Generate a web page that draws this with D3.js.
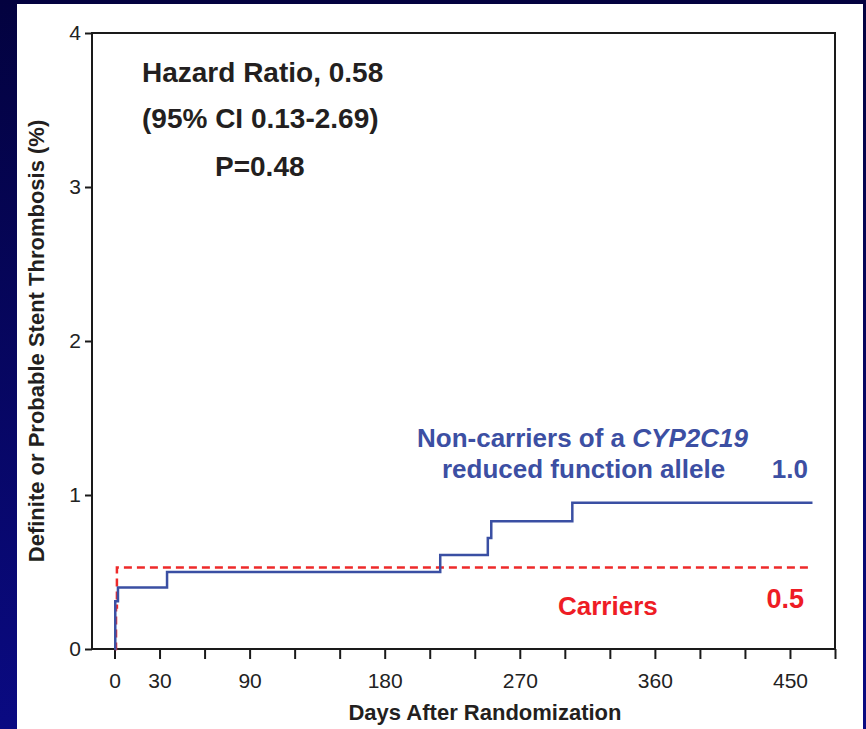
<!DOCTYPE html>
<html>
<head>
<meta charset="utf-8">
<script src="https://cdn.jsdelivr.net/npm/d3@7/dist/d3.min.js"></script>
<style>
  html, body { margin: 0; padding: 0; }
  body { width: 866px; height: 729px; overflow: hidden; }
  svg { display: block; font-family: "Liberation Sans", Arial, Helvetica, sans-serif; }
</style>
</head>
<body>
<svg id="chart" width="866" height="729"></svg>
<script>
// Kaplan-Meier style cumulative incidence of stent thrombosis (%)
const nonCarrierDays = [0, 0.5, 2.3, 35, 217, 248.7, 251, 305, 465];
const nonCarrierRisk = [0, 0.31, 0.40, 0.50, 0.61, 0.72, 0.83, 0.95, 0.95];

const carrierDays = [0, 1, 1.6, 463];
const carrierRisk = [0, 0.27, 0.53, 0.53];

const xTickValues = d3.range(0, 481, 30);
const xTickLabels = [0, 30, 90, 180, 270, 360, 450];
const yTickValues = [0, 1, 2, 3, 4];

const statLines = ["Hazard Ratio, 0.58", "(95% CI 0.13-2.69)", "P=0.48"];
const nonCarrierFinal = "1.0";
const carrierFinal = "0.5";

const svg = d3.select("#chart");
const W = 866, H = 729;

// slide background
const defs = svg.append("defs");
const grad = defs.append("linearGradient").attr("id", "bg").attr("x1", 0).attr("y1", 0).attr("x2", 0).attr("y2", 1);
grad.append("stop").attr("offset", "0%").attr("stop-color", "#03023f");
grad.append("stop").attr("offset", "100%").attr("stop-color", "#0a0a82");
svg.append("rect").attr("width", W).attr("height", H).attr("fill", "url(#bg)");
svg.append("rect").attr("x", 17).attr("y", 4).attr("width", 846).attr("height", H - 4).attr("fill", "#ffffff");

const plotLeft = 92, plotRight = 835, plotTop = 33, plotBottom = 649;
const x = d3.scaleLinear().domain([-15, 480]).range([plotLeft, plotRight]);
const y = d3.scaleLinear().domain([0, 4]).range([plotBottom, plotTop]);

const ink = "#1a1a1a";

// x axis
const xAxis = d3.axisBottom(x)
  .tickValues(xTickValues)
  .tickSize(10)
  .tickPadding(14)
  .tickFormat(d => xTickLabels.includes(d) ? d : "");
const gx = svg.append("g").attr("transform", `translate(0,${plotBottom})`).call(xAxis);
gx.select(".domain").remove();
gx.selectAll(".tick line").attr("stroke", ink).attr("stroke-width", 2);
gx.selectAll(".tick text").attr("fill", "#222").attr("font-size", 21).attr("font-family", "Liberation Sans, Arial, sans-serif");

// y axis
const yAxis = d3.axisLeft(y)
  .tickValues(yTickValues)
  .tickSize(7)
  .tickPadding(4)
  .tickFormat(d3.format("d"));
const gy = svg.append("g").attr("transform", `translate(${plotLeft},0)`).call(yAxis);
gy.select(".domain").remove();
gy.selectAll(".tick line").attr("stroke", ink).attr("stroke-width", 2);
gy.selectAll(".tick text").attr("fill", "#222").attr("font-size", 21).attr("font-family", "Liberation Sans, Arial, sans-serif");

// plot frame
svg.append("rect")
  .attr("x", plotLeft).attr("y", plotTop)
  .attr("width", plotRight - plotLeft).attr("height", plotBottom - plotTop)
  .attr("fill", "none").attr("stroke", ink).attr("stroke-width", 2);

// curves
const step = d3.line()
  .x(d => x(d[0]))
  .y(d => y(d[1]))
  .curve(d3.curveStepAfter);

svg.append("path")
  .datum(d3.zip(carrierDays, carrierRisk))
  .attr("d", step)
  .attr("fill", "none")
  .attr("stroke", "#ee2a2a")
  .attr("stroke-width", 2.5)
  .attr("stroke-dasharray", "8,5");

svg.append("path")
  .datum(d3.zip(nonCarrierDays, nonCarrierRisk))
  .attr("d", step)
  .attr("fill", "none")
  .attr("stroke", "#3a4fa3")
  .attr("stroke-width", 2.5);

// statistics annotation
const statText = svg.append("g").attr("font-weight", "bold").attr("font-size", 28).attr("fill", "#231f20");
statText.append("text").attr("x", 142).attr("y", 82).text(statLines[0]);
statText.append("text").attr("x", 142).attr("y", 128).text(statLines[1]);
statText.append("text").attr("x", 215).attr("y", 176).text(statLines[2]);

// series labels
const blue = "#3c4fa3", red = "#ee1c25";
const nl = svg.append("text").attr("x", 417).attr("y", 447)
  .attr("font-weight", "bold").attr("font-size", 26).attr("fill", blue);
nl.append("tspan").text("Non-carriers of a ");
nl.append("tspan").attr("font-style", "italic").text("CYP2C19");
svg.append("text").attr("x", 442).attr("y", 478)
  .attr("font-weight", "bold").attr("font-size", 26).attr("fill", blue)
  .text("reduced function allele");
svg.append("text").attr("x", 808).attr("y", 478).attr("text-anchor", "end")
  .attr("font-weight", "bold").attr("font-size", 26).attr("fill", blue)
  .text(nonCarrierFinal);

svg.append("text").attr("x", 558).attr("y", 615)
  .attr("font-weight", "bold").attr("font-size", 26).attr("fill", red)
  .text("Carriers");
svg.append("text").attr("x", 804).attr("y", 608).attr("text-anchor", "end")
  .attr("font-weight", "bold").attr("font-size", 27).attr("fill", red)
  .text(carrierFinal);

// axis titles
svg.append("text").attr("x", 485).attr("y", 720).attr("text-anchor", "middle")
  .attr("font-weight", "bold").attr("font-size", 22).attr("fill", "#231f20")
  .text("Days After Randomization");
svg.append("text")
  .attr("transform", `translate(44,341) rotate(-90)`)
  .attr("text-anchor", "middle")
  .attr("font-weight", "bold").attr("font-size", 22).attr("fill", "#231f20")
  .text("Definite or Probable Stent Thrombosis (%)");
</script>
</body>
</html>
